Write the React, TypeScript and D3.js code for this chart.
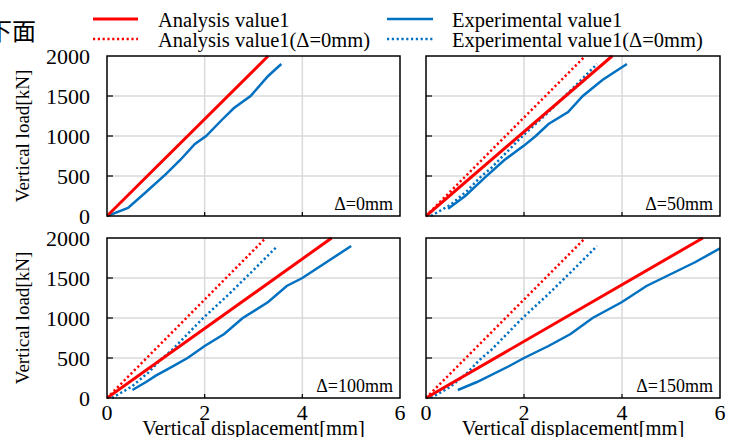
import React from "react";
import { scaleLinear, line } from "d3";

const width = 738;
const height = 437;
const font = "'Liberation Serif', 'Times New Roman', serif";
const red = "#ff0000";
const blue = "#0070c0";

const xTicks = [0, 2, 4, 6];
const yTicks = [0, 500, 1000, 1500, 2000];
const panelLabels = ["Δ=0mm", "Δ=50mm", "Δ=100mm", "Δ=150mm"];

// reference curves (Δ=0mm), drawn dotted in the other panels
const analysisRef = [[0, 0], [3.25, 2000]];
const experimentRef = [
  [0.1, 0], [0.5, 140], [0.85, 320], [1.1, 480], [1.33, 600], [1.65, 800],
  [1.97, 1000], [2.5, 1300], [3.0, 1600], [3.49, 1900],
];

const analysis0 = [[0, 0], [3.3, 2000]];
const experiment0 = [
  [0, 0], [0.43, 100], [0.8, 300], [1.2, 520], [1.5, 700], [1.8, 900],
  [2.03, 1000], [2.35, 1200], [2.6, 1350], [2.94, 1500], [3.3, 1750], [3.57, 1900],
];
const analysis50 = [[0, 0], [3.8, 2000]];
const experiment50 = [
  [0.45, 90], [0.8, 250], [1.2, 480], [1.6, 700], [2.0, 880], [2.24, 1000],
  [2.5, 1150], [2.9, 1300], [3.2, 1500], [3.6, 1700], [4.1, 1900],
];
const analysis100 = [[0, 0], [4.6, 2000]];
const experiment100 = [
  [0.52, 100], [0.8, 200], [1.0, 280], [1.3, 380], [1.65, 500], [2.0, 650],
  [2.4, 800], [2.78, 1000], [3.3, 1200], [3.68, 1400], [4.0, 1500], [4.5, 1700], [5.0, 1900],
];
const analysis150 = [[0, 0], [5.65, 2000]];
const experiment150 = [
  [0.65, 100], [1.04, 200], [1.7, 400], [2.0, 500], [2.5, 650], [2.95, 800],
  [3.4, 1000], [4.0, 1200], [4.5, 1400], [5.0, 1550], [5.5, 1700], [6.0, 1870],
];

const panels = [
  { x0: 107, x1: 400, y0: 56, y1: 216, label: panelLabels[0], a: analysis0, e: experiment0, ref: false, yLab: true, xLab: false },
  { x0: 426, x1: 720, y0: 56, y1: 216, label: panelLabels[1], a: analysis50, e: experiment50, ref: true, yLab: false, xLab: false },
  { x0: 107, x1: 400, y0: 238, y1: 398, label: panelLabels[2], a: analysis100, e: experiment100, ref: true, yLab: true, xLab: true },
  { x0: 426, x1: 720, y0: 238, y1: 398, label: panelLabels[3], a: analysis150, e: experiment150, ref: true, yLab: false, xLab: true },
];

function Panel({ p, i }) {
  const x = scaleLinear().domain([0, 6]).range([p.x0, p.x1]);
  const y = scaleLinear().domain([0, 2000]).range([p.y1, p.y0]);
  const path = line().x((d) => x(d[0])).y((d) => y(d[1]));
  const clip = `clip${i}`;
  return (
    <g>
      <defs>
        <clipPath id={clip}>
          <rect x={p.x0} y={p.y0 - 2} width={p.x1 - p.x0} height={p.y1 - p.y0 + 4} />
        </clipPath>
      </defs>
      {xTicks.slice(1, -1).map((t) => (
        <line key={`gx${t}`} x1={x(t)} x2={x(t)} y1={p.y0} y2={p.y1} stroke="#d9d9d9" strokeWidth={1.5} />
      ))}
      {yTicks.slice(1, -1).map((t) => (
        <line key={`gy${t}`} x1={p.x0} x2={p.x1} y1={y(t)} y2={y(t)} stroke="#d9d9d9" strokeWidth={1.5} />
      ))}
      {xTicks.slice(1, -1).map((t) => (
        <line key={`tx${t}`} x1={x(t)} x2={x(t)} y1={p.y1} y2={p.y1 - 4} stroke="#000" strokeWidth={1.2} />
      ))}
      {yTicks.slice(1, -1).map((t) => (
        <line key={`ty${t}`} x1={p.x0} x2={p.x0 + 6} y1={y(t)} y2={y(t)} stroke="#000" strokeWidth={1.2} />
      ))}
      <g clipPath={`url(#${clip})`}>
        {p.ref && (
          <>
            <path d={path(analysisRef)} fill="none" stroke={red} strokeWidth={2.5} strokeDasharray="2.2 2.6" />
            <path d={path(experimentRef)} fill="none" stroke={blue} strokeWidth={2.5} strokeDasharray="2.2 2.6" />
          </>
        )}
        <path d={path(p.e)} fill="none" stroke={blue} strokeWidth={2.5} />
        <path d={path(p.a)} fill="none" stroke={red} strokeWidth={3} />
      </g>
      <rect x={p.x0} y={p.y0} width={p.x1 - p.x0} height={p.y1 - p.y0} fill="none" stroke="#000" strokeWidth={1.5} />
      <text x={p.x1 - 7} y={p.y1 - 6} textAnchor="end" fontSize={18}>{p.label}</text>
      {p.yLab &&
        yTicks.map((t) => (
          <text key={`ly${t}`} x={p.x0 - 17} y={y(t)} textAnchor="end" dominantBaseline="central" fontSize={22}>{t}</text>
        ))}
      {p.yLab && (
        <text transform={`translate(22,${(p.y0 + p.y1) / 2}) rotate(-90)`} textAnchor="middle" dominantBaseline="central" fontSize={19}>
          Vertical load[kN]
        </text>
      )}
      {p.xLab &&
        xTicks.map((t) => (
          <text key={`lx${t}`} x={x(t)} y={p.y1 + 14} textAnchor="middle" dominantBaseline="central" fontSize={22}>{t}</text>
        ))}
      {p.xLab && (
        <text x={(p.x0 + p.x1) / 2} y={435} textAnchor="middle" fontSize={20.5}>Vertical displacement[mm]</text>
      )}
    </g>
  );
}

export default function App() {
  return (
    <svg width={width} height={height} style={{ position: "absolute", left: 0, top: 0, background: "#fff" }} fontFamily={font} fill="#000">
      <text x={-12} y={40} fontSize={24} fontFamily="'Noto Sans CJK SC', sans-serif">下面</text>
      <line x1={93} x2={138} y1={19} y2={19} stroke={red} strokeWidth={3} />
      <line x1={93} x2={138} y1={39} y2={39} stroke={red} strokeWidth={2.5} strokeDasharray="2.2 2.6" />
      <text x={158} y={27} fontSize={20.5}>Analysis value1</text>
      <text x={158} y={47} fontSize={20.5}>Analysis value1(Δ=0mm)</text>
      <line x1={387} x2={433} y1={19} y2={19} stroke={blue} strokeWidth={2.5} />
      <line x1={387} x2={433} y1={39} y2={39} stroke={blue} strokeWidth={2.5} strokeDasharray="2.2 2.6" />
      <text x={452} y={27} fontSize={20.5}>Experimental value1</text>
      <text x={452} y={47} fontSize={20.5}>Experimental value1(Δ=0mm)</text>
      {panels.map((p, i) => (
        <Panel key={i} p={p} i={i} />
      ))}
    </svg>
  );
}
